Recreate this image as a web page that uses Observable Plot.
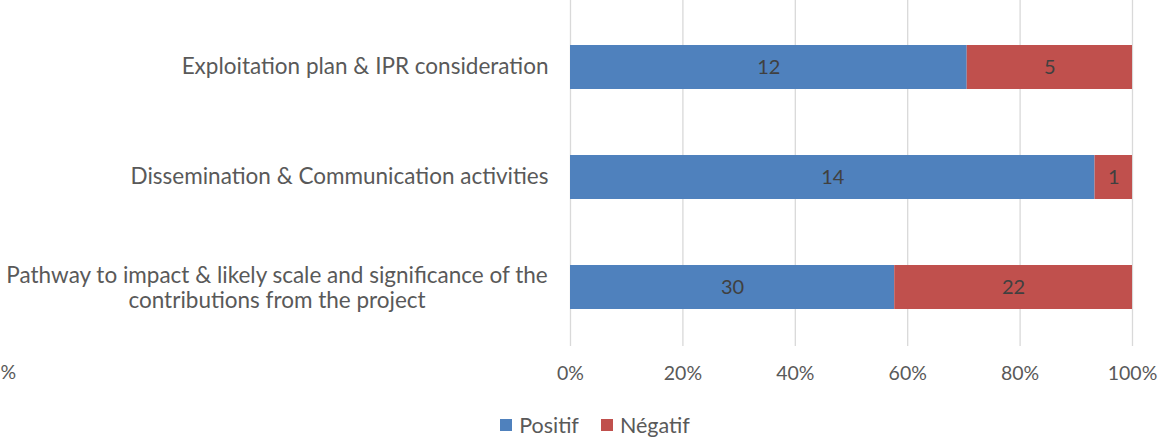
<!DOCTYPE html>
<html>
<head>
<meta charset="utf-8">
<script src="https://cdn.jsdelivr.net/npm/d3@7"></script>
<script src="https://cdn.jsdelivr.net/npm/@observablehq/plot@0.6"></script>
<style>
  html, body { margin: 0; padding: 0; background: #fff; }
  body { width: 1163px; height: 439px; overflow: hidden; font-family: Lato, "Open Sans", sans-serif; }
  #chart svg { display: block; }
  #legend { display: flex; justify-content: center; gap: 22px; font-size: 21.5px; line-height: 26px; color: #595959; margin-left: 27px; margin-top: 12px; }
  #legend span.item { display: flex; align-items: center; gap: 7px; }
  #legend span.sw { width: 12px; height: 12px; display: inline-block; }
</style>
</head>
<body>
<div id="chart"></div>
<div id="legend"></div>
<script>
const categories = [
  "Exploitation plan & IPR consideration",
  "Dissemination & Communication activities",
  "Pathway to impact & likely scale and significance of the contributions from the project"
];
const seriesNames = ["Positif", "Négatif"];
const positif = [12, 14, 30];
const negatif = [5, 1, 22];
const colors = ["#4f81bd", "#c0504d"];
const xTicks = [0, 0.2, 0.4, 0.6, 0.8, 1];
const pathwayLines = ["Pathway to impact & likely scale and significance of the", "contributions from the project"];

const rows = [];
categories.forEach((c, i) => {
  rows.push({cat: c, series: seriesNames[0], value: positif[i]});
  rows.push({cat: c, series: seriesNames[1], value: negatif[i]});
});

const fontFam = "Lato, 'Open Sans', sans-serif";
const catSize = 22.5;
const ctx = document.createElement("canvas").getContext("2d");
ctx.font = `${catSize}px Lato`;
const w1 = ctx.measureText(pathwayLines[0]).width;

const chart = Plot.plot({
  width: 1163,
  height: 400,
  marginLeft: 570,
  marginRight: 31,
  marginTop: 12,
  marginBottom: 58,
  style: {fontFamily: fontFam, fontSize: "19px", color: "#595959", background: "#fff"},
  x: {domain: [0, 1], ticks: xTicks, tickFormat: d => Math.round(d * 100) + "%", label: null},
  y: {domain: categories, paddingInner: 0.6, paddingOuter: 0.3, label: null, axis: null},
  color: {domain: seriesNames, range: colors},
  marks: [
    Plot.ruleX(xTicks, {stroke: "#d9d9d9", strokeWidth: 1.3, insetTop: -12, insetBottom: -4}),
    Plot.axisX({ticks: xTicks, tickFormat: d => Math.round(d * 100) + "%", tickSize: 0, tickPadding: 24, fontSize: 19.5, fill: "#595959", label: null}),
    Plot.barX(rows, Plot.stackX({offset: "normalize", order: seriesNames, x: "value", y: "cat", z: "series", fill: "series"})),
    Plot.text(rows, Plot.stackX({offset: "normalize", order: seriesNames, x: "value", y: "cat", z: "series", text: d => String(d.value), fill: "#404040", fontSize: 20})),
    Plot.text(categories.slice(0, 2), {x: () => 0, y: d => d, text: d => d, textAnchor: "end", dx: -22, dy: -1, fill: "#595959", fontSize: catSize}),
    Plot.text([pathwayLines.join("\n")], {x: () => 0, y: () => categories[2], text: d => d, textAnchor: "middle", lineHeight: 1.12, dx: -22 - w1 / 2, fill: "#595959", fontSize: catSize}),
    Plot.text(["%"], {frameAnchor: "bottom-left", text: d => d, textAnchor: "start", dx: -570, dy: 36, fill: "#595959", fontSize: 19.5})
  ]
});
document.getElementById("chart").appendChild(chart);

const legend = document.getElementById("legend");
seriesNames.forEach((s, i) => {
  const item = document.createElement("span");
  item.className = "item";
  const sw = document.createElement("span");
  sw.className = "sw";
  sw.style.background = colors[i];
  item.appendChild(sw);
  item.appendChild(document.createTextNode(s));
  legend.appendChild(item);
});
</script>
</body>
</html>
